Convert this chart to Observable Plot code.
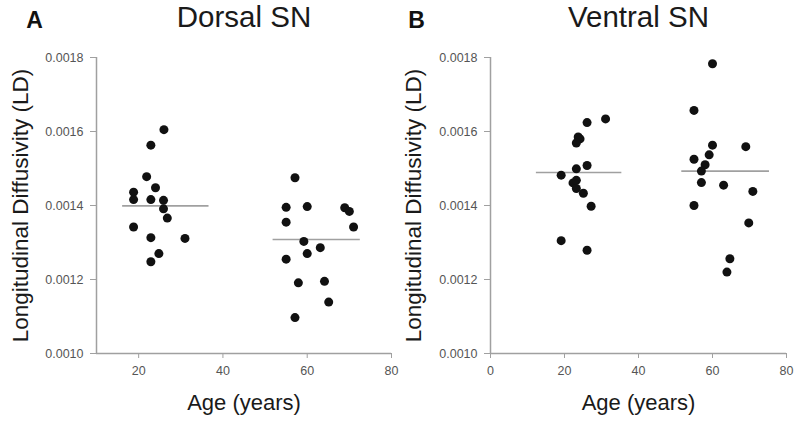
<!DOCTYPE html>
<html>
<head>
<meta charset="utf-8">
<script src="https://cdn.jsdelivr.net/npm/d3@7"></script>
<script src="https://cdn.jsdelivr.net/npm/@observablehq/plot@0.6"></script>
<style>
  html, body { margin: 0; padding: 0; background: #fff; }
  #wrap { width: 800px; height: 424px; display: flex; }
  #wrap svg { display: block; }
</style>
</head>
<body>
<div id="wrap"></div>
<script>
// ---- Data ----
const panelLetters = ["A", "B"];
const panelTitles = ["Dorsal SN", "Ventral SN"];
const yLabel = "Longitudinal Diffusivity (LD)";
const xLabel = "Age (years)";
const yTicks = [0.0010, 0.0012, 0.0014, 0.0016, 0.0018];
const xTicksA = [20, 40, 60, 80];
const xTicksB = [0, 20, 40, 60, 80];
const xDomainA = [10, 80];
const xDomainB = [0, 80];
const yDomain = [0.0010, 0.0018];

// Dorsal SN, young
const dorsalYoungAge = [26, 22.9, 21.9, 24, 18.8, 18.8, 22.9, 25.9, 25.9, 26.8, 18.8, 22.9, 31, 24.8, 22.9];
const dorsalYoungLD  = [0.001605, 0.001563, 0.001478, 0.001448, 0.001436, 0.001416, 0.001416, 0.001414, 0.001391, 0.001366, 0.001342, 0.001313, 0.001311, 0.001270, 0.001248];
// Dorsal SN, old
const dorsalOldAge = [57.1, 55, 60, 68.9, 70, 55, 71, 59.2, 63.1, 60, 55, 57.9, 64.1, 65.1, 57.1];
const dorsalOldLD  = [0.001475, 0.001395, 0.001397, 0.001394, 0.001384, 0.001355, 0.001342, 0.001303, 0.001286, 0.001270, 0.001255, 0.001191, 0.001195, 0.001139, 0.001097];
// Ventral SN, young
const ventralYoungAge = [31.1, 26.1, 23.7, 24.2, 23.2, 26.1, 23.2, 19.1, 22.3, 23.2, 23.2, 25.1, 27.2, 19.1, 26.1];
const ventralYoungLD  = [0.001634, 0.001624, 0.001585, 0.001580, 0.001569, 0.001508, 0.001499, 0.001482, 0.001461, 0.001468, 0.001446, 0.001433, 0.001398, 0.001305, 0.001279];
// Ventral SN, old
const ventralOldAge = [60, 55, 60, 69, 59.1, 55, 58, 57, 57, 63, 70.9, 55, 69.8, 64.7, 63.9];
const ventralOldLD  = [0.001783, 0.001657, 0.001563, 0.001559, 0.001537, 0.001525, 0.001510, 0.001493, 0.001462, 0.001455, 0.001438, 0.001400, 0.001353, 0.001256, 0.001220];

// Group means (horizontal lines) with their age extent
const dorsalMeans  = [0.001399, 0.001308];
const ventralMeans = [0.001489, 0.001493];
const dorsalMeanFrom  = [16.2, 51.9];
const dorsalMeanTo    = [36.7, 72.6];
const ventralMeanFrom = [12.4, 51.7];
const ventralMeanTo   = [35.5, 75.4];

// ---- Build tables ----
function pts(ages, lds) { return ages.map((a, i) => ({age: a, ld: lds[i]})); }
function means(vals, from, to) { return vals.map((v, i) => ({ld: v, x1: from[i], x2: to[i]})); }

const panels = [
  {
    letter: panelLetters[0], title: panelTitles[0],
    points: pts(dorsalYoungAge, dorsalYoungLD).concat(pts(dorsalOldAge, dorsalOldLD)),
    means: means(dorsalMeans, dorsalMeanFrom, dorsalMeanTo),
    xDomain: xDomainA, xTicks: xTicksA,
    marginLeft: 96, marginRight: 9, letterDx: -62, ylabelDx: -76
  },
  {
    letter: panelLetters[1], title: panelTitles[1],
    points: pts(ventralYoungAge, ventralYoungLD).concat(pts(ventralOldAge, ventralOldLD)),
    means: means(ventralMeans, ventralMeanFrom, ventralMeanTo),
    xDomain: xDomainB, xTicks: xTicksB,
    marginLeft: 90, marginRight: 14, letterDx: -74, ylabelDx: -77
  }
];

const axisGray = "#a0a0a0";
const tickText = "#555";
const font = "'Liberation Sans', Arial, sans-serif";

for (const p of panels) {
  const chart = Plot.plot({
    width: 400,
    height: 424,
    marginTop: 57,
    marginBottom: 71,
    marginLeft: p.marginLeft,
    marginRight: p.marginRight,
    style: {fontFamily: font, background: "#fff", overflow: "visible"},
    x: {domain: p.xDomain},
    y: {domain: yDomain},
    marks: [
      Plot.ruleX([p.xDomain[0]], {stroke: axisGray, strokeWidth: 1.5}),
      Plot.ruleY([yDomain[0]], {stroke: axisGray, strokeWidth: 1.5}),
      Plot.axisY({
        ticks: yTicks, tickFormat: d3.format(".4f"), tickSize: 6, tickPadding: 7,
        stroke: axisGray, color: tickText, fontSize: 12.5, label: null
      }),
      Plot.axisX({
        ticks: p.xTicks, tickFormat: d3.format("d"), tickSize: 5, tickPadding: 8,
        stroke: axisGray, color: tickText, fontSize: 12.5, label: null
      }),
      Plot.ruleY(p.means, {y: "ld", x1: "x1", x2: "x2", stroke: axisGray, strokeWidth: 1.6}),
      Plot.dot(p.points, {x: "age", y: "ld", r: 4.5, fill: "#111", stroke: "none"}),
      Plot.text([p.title], {frameAnchor: "top", dy: -31, lineAnchor: "bottom", fontSize: 29.5, fill: "#1a1a1a"}),
      Plot.text([p.letter], {frameAnchor: "top-left", dx: p.letterDx, dy: -30, lineAnchor: "bottom", textAnchor: "middle", fontSize: 23, fontWeight: "bold", fill: "#111"}),
      Plot.text([xLabel], {frameAnchor: "bottom", dy: 56, lineAnchor: "bottom", fontSize: 22, fill: "#1a1a1a"}),
      Plot.text([yLabel], {frameAnchor: "left", dx: p.ylabelDx, rotate: -90, lineAnchor: "middle", textAnchor: "middle", fontSize: 22.5, fill: "#1a1a1a"})
    ]
  });
  document.getElementById("wrap").appendChild(chart);
}
</script>
</body>
</html>
